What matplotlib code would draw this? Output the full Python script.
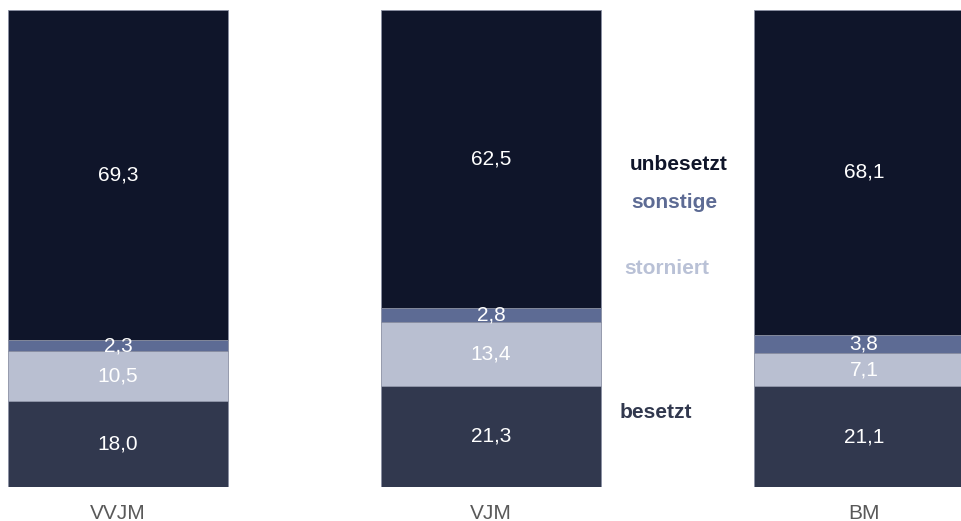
import numpy as np
import matplotlib.pyplot as plt

plt.rcParams['font.family'] = ['Liberation Sans', 'DejaVu Sans']

categories = ['VVJM', 'VJM', 'BM']
series = ['besetzt', 'storniert', 'sonstige', 'unbesetzt']
besetzt = [18.0, 21.3, 21.1]
storniert = [10.5, 13.4, 7.1]
sonstige = [2.3, 2.8, 3.8]
unbesetzt = [69.3, 62.5, 68.1]

colors = ['#31384e', '#b9bfd1', '#5d6b94', '#0f152a']
label_colors = ['#31384e', '#b9c1d6', '#5d6b94', '#0f152a']

fig = plt.figure(figsize=(9.61, 5.21), dpi=100)
ax = fig.add_axes([0, 34 / 521, 1, (487 - 10) / 521])

x = np.arange(len(categories))
bottom = np.zeros(len(categories))
for vals, col in zip([besetzt, storniert, sonstige, unbesetzt], colors):
    vals = np.array(vals)
    ax.bar(x, vals, width=0.59, bottom=bottom, color=col,
           edgecolor='#8a90a3', linewidth=0.6)
    for xi, b, v in zip(x, bottom, vals):
        ax.text(xi, b + v / 2, f'{v:.1f}'.replace('.', ','), ha='center',
                va='center', color='white', fontsize=15)
    bottom += vals

ax.set_xlim(-118 / 373, (961 - 118) / 373)
ax.set_ylim(0, 100.1)
ax.axis('off')

for xi, c in zip(x, categories):
    ax.text(xi, -5.5, c, ha='center', va='center', color='#595959', fontsize=15)

# series names placed in the gap between VJM and BM
label_pos = [(620, 412), (624, 269), (631, 203), (630, 165)]
for name, col, (px, py) in zip(series, label_colors, label_pos):
    fig.text(px / 961, 1 - py / 521, name, ha='left', va='center',
             color=col, fontsize=15, fontweight='bold')

fig.savefig('out.png', dpi=100)
